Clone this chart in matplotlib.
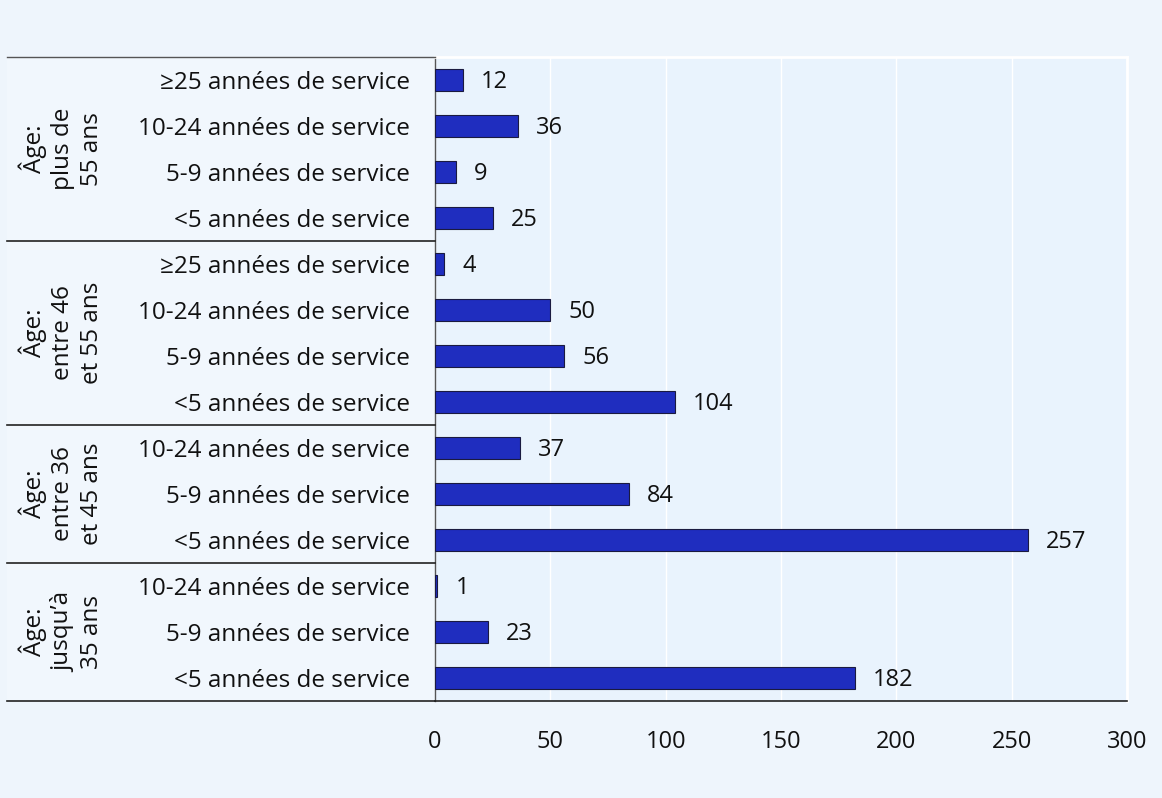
import matplotlib
matplotlib.use("Agg")
import matplotlib.pyplot as plt
from matplotlib.patches import Rectangle
from matplotlib.lines import Line2D

plt.rcParams["font.family"] = ["Open Sans", "DejaVu Sans"]

# categories from top to bottom
categories = [
    "≥25 années de service", "10-24 années de service", "5-9 années de service", "<5 années de service",
    "≥25 années de service", "10-24 années de service", "5-9 années de service", "<5 années de service",
    "10-24 années de service", "5-9 années de service", "<5 années de service",
    "10-24 années de service", "5-9 années de service", "<5 années de service",
]
values = [12, 36, 9, 25, 4, 50, 56, 104, 37, 84, 257, 1, 23, 182]
groups = ["Âge:\nplus de\n55 ans", "Âge:\nentre 46\net 55 ans", "Âge:\nentre 36\net 45 ans", "Âge:\njusqu’à\n35 ans"]
group_sizes = [4, 4, 3, 3]
xticks = [0, 50, 100, 150, 200, 250, 300]

FS = 17
W, H = 1162, 798
fig = plt.figure(figsize=(W / 100, H / 100), dpi=100)
fig.patch.set_facecolor("#EEF5FC")

left, right, top, bottom = 435, 1127, 57, 701
ax = fig.add_axes([left / W, 1 - bottom / H, (right - left) / W, (bottom - top) / H])
ax.set_facecolor("#E9F3FD")
ax.set_zorder(2)

# label panel behind the category names
panel = Rectangle((7 / W, 1 - bottom / H), (left - 7) / W, (bottom - top) / H,
                  transform=fig.transFigure, facecolor="#F1F7FD", edgecolor="none", zorder=0)
fig.patches.append(panel)

ypos = list(range(len(values)))
ax.barh(ypos, values, height=0.48, color="#1F2DBF", edgecolor="#1a1a40", linewidth=0.8, zorder=3)
for y, v in zip(ypos, values):
    ax.annotate(str(v), (v, y), xytext=(13, -1.5), textcoords="offset points",
                va="center", ha="left", fontsize=FS, color="#111111")

ax.set_xlim(0, 300)
ax.set_ylim(len(values) - 0.5, -0.5)
ax.set_xticks(xticks)
ax.set_xticklabels([str(t) for t in xticks])
ax.set_yticks(ypos)
ax.set_yticklabels(categories)
ax.tick_params(axis="y", length=0, pad=18, labelsize=17.5, labelcolor="#111111")
ax.tick_params(axis="x", length=0, pad=21, labelsize=FS, labelcolor="#111111")
ax.grid(axis="x", color="white", linewidth=1.0, zorder=0)
ax.set_axisbelow(True)

for side in ["top", "right"]:
    ax.spines[side].set_color("white")
    ax.spines[side].set_linewidth(2)
ax.spines["bottom"].set_color("#222222")
ax.spines["bottom"].set_linewidth(1.2)
ax.spines["left"].set_color("#555555")
ax.spines["left"].set_linewidth(1.0)

# group separators and rotated group titles
x0, x1 = 7 / W, left / W
row_h = (bottom - top) / len(values)
fig.lines.append(Line2D([x0, x1], [1 - top / H, 1 - top / H], transform=fig.transFigure,
                        color="#555555", linewidth=1.0))
start = 0
for name, n in zip(groups, group_sizes):
    end = start + n
    yb = top + end * row_h
    fig.lines.append(Line2D([x0, x1], [1 - yb / H, 1 - yb / H], transform=fig.transFigure,
                            color="#222222", linewidth=1.2))
    yc = top + (start + end) / 2 * row_h
    fig.text(61 / W, 1 - yc / H, name, rotation=90, ha="center", va="center",
             fontsize=17.5, color="#111111", linespacing=1.25, multialignment="center")
    start = end

fig.savefig("out.png", dpi=100, facecolor=fig.get_facecolor())
